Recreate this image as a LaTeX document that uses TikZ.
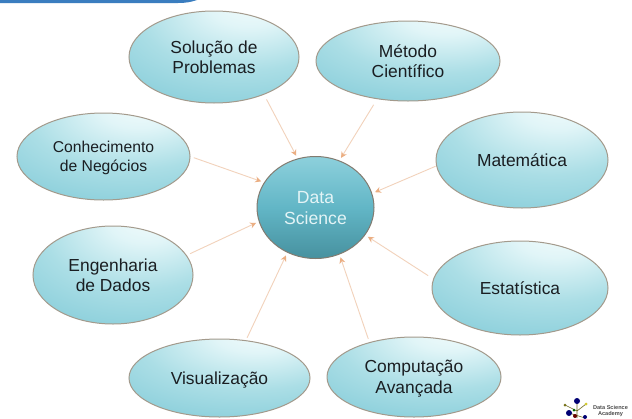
\documentclass[tikz,border=0pt]{standalone}
\usepackage{fontspec}
\setmainfont{Liberation Sans}
\usetikzlibrary{shapes.geometric,arrows.meta}
\definecolor{edgeC}{HTML}{A39A8C}
\definecolor{arrC}{HTML}{F2D2BB}
\definecolor{headC}{HTML}{EBAE82}
\definecolor{lightC}{HTML}{E4F4F6}
\definecolor{barC}{HTML}{3A7DBF}
\definecolor{txtC}{HTML}{1A1E22}
\definecolor{HubTop}{HTML}{8DD0DC}
\definecolor{HubMid}{HTML}{62B6C6}
\definecolor{HubBot}{HTML}{47919F}
\pgfdeclareradialshading{topicShade}{\pgfpoint{12bp}{32bp}}{%
  rgb(0bp)=(0.96,0.99,0.99);
  rgb(12bp)=(0.88,0.96,0.97);
  rgb(30bp)=(0.67,0.87,0.90);
  rgb(50bp)=(0.52,0.80,0.85);
  rgb(75bp)=(0.46,0.76,0.82);
  rgb(100bp)=(0.44,0.74,0.80)}
\tikzset{
  x=1pt,y=-1pt,
  topic/.style={ellipse,draw=edgeC,line width=1pt,inner sep=0pt,align=center,text=txtC,text depth=0pt,
    shade,shading=topicShade,font=\fontsize{17.4}{20.5}\selectfont},
  hub/.style={ellipse,draw=edgeC!80!black,line width=1pt,inner sep=0pt,align=center,text=lightC,text depth=0pt,
    top color=HubTop,bottom color=HubBot,middle color=HubMid,font=\fontsize{17.6}{21}\selectfont},
  link/.style={draw=arrC,line width=0.9pt,shorten >=3pt,-{Stealth[length=6pt,width=6pt,color=headC]}},
  logoDot/.style={circle,inner sep=0pt,minimum size=#1},
}
\begin{document}
\begin{tikzpicture}
\useasboundingbox (0,0) rectangle (632,418);
\fill[white] (0,0) rectangle (632,418);
\clip (0,0) rectangle (632,418);
\fill[barC] (0,0) -- (197,0) .. controls (191,2) and (186,3) .. (178,3) -- (0,3) -- cycle;

\node[hub,minimum width=117pt,minimum height=102pt] (ds) at (315.5,207.5) {Data\\Science};
\node[topic,minimum width=170pt,minimum height=92pt] (sol) at (214,57) {Solução de\\Problemas};
\node[topic,minimum width=184pt,minimum height=80pt] (met) at (408,61) {Método\\Científico};
\node[topic,minimum width=172pt,minimum height=96pt] (mat) at (522,160) {Matemática};
\node[topic,minimum width=176pt,minimum height=94pt] (est) at (520,288) {Estatística};
\node[topic,minimum width=174pt,minimum height=80pt] (com) at (414,377) {Computação\\Avançada};
\node[topic,minimum width=181pt,minimum height=78pt] (vis) at (219.5,378) {Visualização};
\node[topic,minimum width=160pt,minimum height=98pt] (eng) at (113,275) {Engenharia\\de Dados};
\node[topic,minimum width=173pt,minimum height=87pt,font=\fontsize{15.7}{19.5}\selectfont] (con) at (103.5,156.5) {Conhecimento\\de Negócios};

\draw[link,shorten <=5.3pt] (sol.-37.7) -- (ds.110);
\draw[link,shorten <=6.6pt] (met.-129.7) -- (ds.63.2);
\draw[link,shorten <=0.7pt] (mat.184.5) -- (ds.14);
\draw[link,shorten <=6pt] (est.174.7) -- (ds.-29.9);
\draw[link,shorten <=3.5pt] (com.142.4) -- (ds.-63.2);
\draw[link,shorten <=2.7pt] (vis.55.7) -- (ds.238.2);
\draw[link,shorten <=3.7pt] (eng.15.8) -- (ds.194.6);
\draw[link,shorten <=3.5pt] (con.0.7) -- (ds.154.2);

% logo
\draw[olive!70!black,line width=0.6pt] (577,402) -- (577,418) (565,405) -- (577,411) -- (586,404) (569,413) -- (585,418);
\node[logoDot=6pt,fill=blue!45!black] (l1) at (577,401) {};
\node[logoDot=6pt,fill=blue!45!black] (l2) at (569,413) {};
\node[logoDot=3pt,fill=olive!80!black] (l3) at (565,405) {};
\node[logoDot=3pt,fill=yellow!80!black] (l4) at (586,404) {};
\node[logoDot=3pt,fill=green!40!black] (l5) at (574,410) {};
\node[logoDot=4pt,fill=blue!45!black] (l6) at (585,417) {};
\node[logoDot=4pt,fill=red!40!black] (l7) at (575,416) {};
\node[font=\fontsize{5.6}{6.4}\selectfont\bfseries,align=center,text=black!70,inner sep=0pt] (lt) at (610.5,411) {Data Science\\Academy};
\end{tikzpicture}
\end{document}
